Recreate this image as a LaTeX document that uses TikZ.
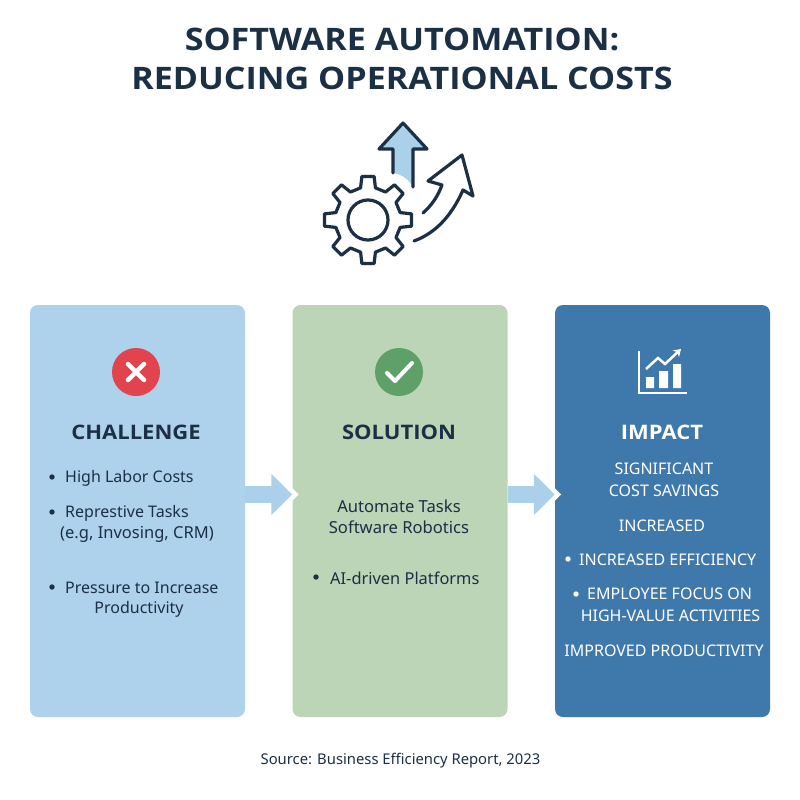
\documentclass[tikz,border=0pt]{standalone}
\usepackage{fontspec}
\setmainfont{Noto Sans}
\newfontfamily\headfont[FakeStretch=1.1]{Open Sans}
\usepackage{tikz}
\usetikzlibrary{arrows.meta,calc}
\definecolor{inkdark}{HTML}{1B2F45}
\definecolor{cardblue}{HTML}{AED2EB}
\definecolor{cardgreen}{HTML}{BBD5B6}
\definecolor{carddark}{HTML}{3F78AB}
\definecolor{badgered}{HTML}{E2444E}
\definecolor{badgegreen}{HTML}{5FA068}
\definecolor{arrowblue}{HTML}{ABD0EA}
\tikzset{
  card/.style={rounded corners=8pt,minimum width=215pt,minimum height=412pt,inner sep=0pt},
  badge/.style={circle,minimum size=48pt,inner sep=0pt},
  heading/.style={font=\headfont\fontsize{20}{25}\selectfont\bfseries,text=inkdark},
  body/.style={font=\fontsize{16}{21.5}\selectfont,text=inkdark,align=center,inner sep=0pt},
  bodyleft/.style={body,anchor=west,align=left},
  flow/.style={arrowblue,line width=17pt,-{Triangle[length=21pt,width=40pt]}},
  flowedge/.style={flow,white,shorten >=-6.5pt},
  icon/.style={inkdark,line width=3.2pt,line join=round,line cap=round}
}
\begin{document}
\begin{tikzpicture}[x=1pt,y=-1pt]
\useasboundingbox (0,0) rectangle (800,800);
\fill[white] (0,0) rectangle (800,800);
\node[font=\headfont\fontsize{31}{39.5}\selectfont\bfseries,text=inkdark,align=center,inner sep=0pt] (title) at (402,59)
  {SOFTWARE AUTOMATION:\\REDUCING OPERATIONAL COSTS};
% up arrow and gear
\fill[arrowblue] (393,173) -- (393,149) -- (403,123) -- (413,149) -- (413,187) .. controls (409,180) and (402,174) .. (393,173);
\fill[arrowblue] (379,149) -- (403,123) -- (427,149) -- cycle;
\draw[icon] (393,173) -- (393,149) -- (379,149) -- (403,123) -- (427,149) -- (413,149) -- (413,187);
\begin{scope}[shift={(368,220)}]
\draw[icon,fill=white] (-13:33) \foreach \a in {0,45,...,315} { -- (\a-13:33) -- (\a-8:44) -- (\a+8:44) -- (\a+13:33) } -- cycle;
\draw[icon] (0,0) circle (20);
\end{scope}
\draw[icon] (423,213) .. controls (432,205) and (438,196) .. (442,185) -- (428,181) -- (462,155) -- (473,196) -- (463,190) .. controls (452,215) and (436,233) .. (414,241);
% cards
\node[card,fill=cardblue] (challenge) at (137.5,511) {};
\node[card,fill=cardgreen] (solution) at (400,511) {};
\node[card,fill=carddark] (impact) at (662.5,511) {};
\coordinate (flowrow) at (0,494.5);
\draw[flowedge] (challenge.east |- flowrow) -- (solution.west |- flowrow);
\draw[flowedge] (solution.east |- flowrow) -- (impact.west |- flowrow);
\draw[flow] (challenge.east |- flowrow) -- (solution.west |- flowrow);
\draw[flow] (solution.east |- flowrow) -- (impact.west |- flowrow);
% badges
\node[badge,fill=badgered] (cross) at (136,372) {};
\draw[white,line width=4.5pt,line cap=round] (128,364) -- (144,380) (144,364) -- (128,380);
\node[badge,fill=badgegreen] (tick) at (399,372) {};
\draw[white,line width=4pt,line cap=round,line join=round] (387,373) -- (395,381) -- (412,363);
% chart icon
\draw[white,line width=2pt] (639,351) -- (639,393) -- (687,393);
\fill[white] (646,377) rectangle (654,388) (659,371) rectangle (668,388) (673,364) rectangle (681,388);
\draw[white,line width=2.5pt,-{Stealth[length=7pt,width=9pt]}] (646,369) -- (658,358) -- (665,364) -- (681,349);
% headings
\node[heading] (challengehead) at (136,432) {CHALLENGE};
\node[heading] (solutionhead) at (399,432) {SOLUTION};
\node[heading,text=white] (impacthead) at (662,432) {IMPACT};
% challenge list
\node[bodyleft] (labor) at (65,478) {High Labor Costs};
\node[bodyleft] (tasks) at (65,513) {Represtive Tasks};
\node[body,font=\fontsize{16.5}{21.5}\selectfont] (tasksnote) at (137,534) {(e.g, Invosing, CRM)};
\node[bodyleft] (pressure) at (65,588) {Pressure to Increase};
\node[body] (pressurenote) at (139,609) {Productivity};
\foreach \y in {477,512,587}
  \fill[inkdark] (52,\y) circle (2.7);
% solution list
\node[body,font=\fontsize{16.6}{21.5}\selectfont] (automate) at (399,517) {Automate Tasks\\Software Robotics};
\node[bodyleft,font=\fontsize{16.4}{21.5}\selectfont] (platforms) at (330,578) {AI-driven Platforms};
\fill[inkdark] (316,577) circle (2.7);
% impact list
\node[body,text=white] (savings) at (664,480) {SIGNIFICANT\\COST SAVINGS};
\node[body,text=white] (increased) at (662,526) {INCREASED};
\node[bodyleft,text=white] (efficiency) at (579,560) {INCREASED EFFICIENCY};
\node[bodyleft,text=white] (focus) at (587,594) {EMPLOYEE FOCUS ON};
\node[body,text=white] (focusnote) at (670.5,616) {HIGH-VALUE ACTIVITIES};
\node[body,text=white] (productivity) at (664,651) {IMPROVED PRODUCTIVITY};
\fill[white] (568,559) circle (2.7) (576,594) circle (2.7);
\node[body,font=\fontsize{14.8}{20}\selectfont] (source) at (400.5,761) {Source: Business Efficiency Report, 2023};
\end{tikzpicture}
\end{document}
